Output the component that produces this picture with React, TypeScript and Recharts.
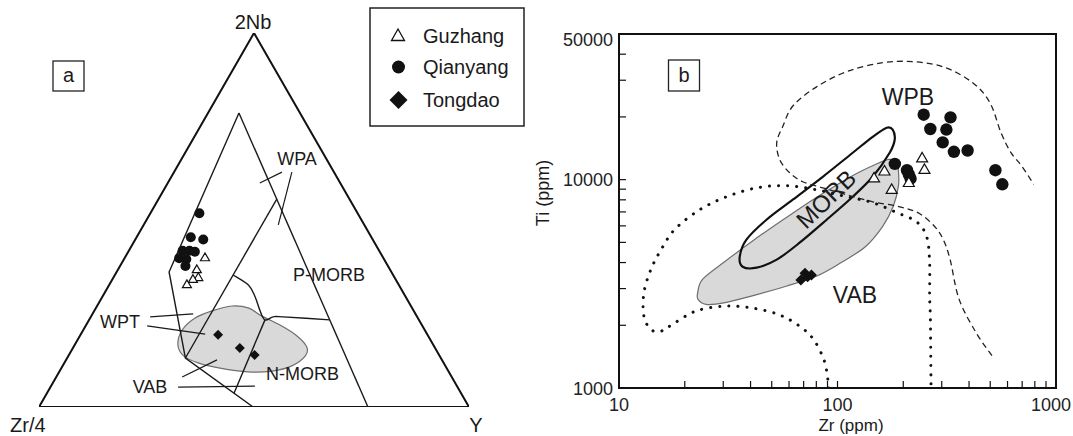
import React from 'react';
import { ScatterChart, Scatter, XAxis, YAxis, ReferenceArea } from 'recharts';

const FONT = '"Liberation Sans", Arial, Helvetica, sans-serif';

// ---------- Panel a: Zr/4 - 2Nb - Y ternary, values as [2Nb %, Y %] (Zr/4 = remainder) ----------
const guzhangTernary = [[39.8, 18.7], [36.6, 18.4], [34.5, 19.8], [34.0, 18.8], [32.6, 18.1]];
const qianyangTernary = [[51.8, 11.4], [45.4, 12.6], [44.8, 15.8], [41.8, 12.5], [41.8, 14.1], [41.5, 15.5], [39.8, 12.7], [39.5, 14.5], [37.7, 15.2]];
const tongdaoTernary = [[19.3, 32.0], [15.8, 38.8], [13.9, 43.2]];

const outerTriangle = [[100, 0], [0, 0], [0, 100]];
const innerLeftLine = [[78.6, 7.2], [36.1, 12.2], [13.1, 27.5], [0, 49.8]];
const innerRightLine = [[78.6, 7.2], [0, 76.5]];
const constantYLine = [[55.6, 27.5], [13.1, 27.5]];
const cdBoundary = [[35.3, 27.5], [32.6, 32.4], [29.5, 35.5], [25.9, 38.4], [23.3, 40.9], [24.1, 42.4], [24.1, 44.7], [23.3, 56.0]];
const nmorbBoundary = [[23.3, 40.9], [3.7, 43.5]];
const leaderLines = [
  [[59.9, 21.4], [62.8, 25.1]],
  [[62.8, 27.4], [48.7, 31.3]],
  [[24.1, 13.8], [24.9, 23.4]],
  [[21.7, 14.3], [19.5, 28.9]],
  [[8.0, 29.3], [12.6, 35.1]],
  [[5.3, 29.7], [5.6, 47.4]],
];
const tongdaoFieldTernary = [[16.6, 24.0], [20.6, 23.0], [23.8, 24.4], [25.7, 27.4], [27.0, 31.4], [26.5, 35.4], [24.3, 39.7], [21.9, 45.1], [19.0, 50.5], [16.0, 54.3], [13.6, 55.1], [11.0, 53.3], [9.6, 49.4], [9.4, 43.9], [10.4, 36.9], [11.8, 31.1], [13.6, 26.9]];

// ---------- Panel b: Zr vs Ti (ppm) ----------
const guzhangZr = [244, 250, 164, 147, 177, 212];
const guzhangTi = [12600, 11100, 10900, 10100, 8900, 9600];
const qianyangZr = [248, 329, 266, 315, 303, 341, 394, 183, 208, 216, 212, 528, 568];
const qianyangTi = [20500, 19900, 17500, 17400, 15100, 13600, 13800, 11900, 11100, 10100, 10600, 11100, 9500];
const tongdaoZr = [71, 76, 68, 73];
const tongdaoTi = [3550, 3490, 3300, 3420];

const morbField = [[35.7, 4270], [38.3, 5150], [47.3, 6420], [62.4, 8010], [85.6, 10320], [117.4, 13460], [144.9, 16060], [168, 17750], [178.9, 17360], [182.7, 15540], [173.3, 13460], [144.9, 10320], [117.4, 8280], [89.2, 6420], [67.1, 4980], [52.7, 4130], [42.7, 3780], [36.8, 3820]];
const vabField = [[22.9, 2860], [24.1, 3320], [30.1, 4000], [41.6, 5150], [62.6, 6920], [86.6, 8640], [116, 10390], [149, 11820], [172, 12500], [186, 12100], [190, 11000], [190, 9300], [180, 7450], [161, 5970], [134.5, 4780], [104, 4000], [80.5, 3450], [58.2, 3080], [40.3, 2760], [30.1, 2560], [25, 2520], [23, 2660]];
const wpbBoundary = [[509, 1430], [430, 1850], [360, 2670], [328, 4120], [305, 5150], [279, 5940], [238, 6860], [193, 7410], [145, 7830], [110, 8460], [85.6, 9140], [69.3, 9770], [60.4, 10790], [54.4, 12460], [52.7, 15040], [56.1, 17940], [62.6, 22620], [80.5, 27950], [111, 33090], [161, 36400], [225, 36800], [311, 34500], [417, 29100], [499, 23350], [560, 16800], [622, 13480], [697, 11620], [791, 9500]];
const iatBoundary = [[91, 1000], [89.9, 1140], [86.6, 1370], [77.7, 1710], [67.1, 1980], [53.9, 2250], [40.3, 2425], [30.1, 2470], [22.5, 2340], [18, 2055], [15.6, 1875], [14, 1910], [13, 2210], [13, 2860], [14, 3710], [15.6, 4620], [18, 5770], [23.4, 7170], [31.1, 8280], [42.7, 9140], [58.5, 9350], [80.3, 8940], [110, 8280], [145, 7750], [187, 6940], [230, 6280], [256, 5320], [264, 3990], [264, 2740], [266, 2210], [267, 1530], [268, 1000]];

const zrTicks = [10, 20, 30, 40, 50, 60, 70, 80, 90, 100, 200, 300, 400, 500, 600, 700, 800, 900, 1000];
const zrTickLabels = [10, 100, 1000];
const tiTicks = [1000, 2000, 3000, 4000, 5000, 6000, 7000, 8000, 9000, 10000, 20000, 30000, 40000, 50000];
const tiTickLabels = [1000, 10000, 50000];

// ---------- helpers ----------
const tern = (arr: number[][]) => arr.map(([nb, y]) => ({ x: y + nb / 2, y: nb }));
const pairs = (arr: number[][]) => arr.map(([x, y]) => ({ x, y }));
const zip = (xs: number[], ys: number[]) => xs.map((x, i) => ({ x, y: ys[i] }));

type Pt = { x: number; y: number };
function catmull(pts: Pt[], closed: boolean): string {
  const n = pts.length;
  if (n < 2) return '';
  const get = (i: number) => (closed ? pts[(i + n) % n] : pts[Math.max(0, Math.min(n - 1, i))]);
  let d = `M${pts[0].x},${pts[0].y}`;
  const segs = closed ? n : n - 1;
  for (let i = 0; i < segs; i++) {
    const p0 = get(i - 1), p1 = get(i), p2 = get(i + 1), p3 = get(i + 2);
    const c1x = p1.x + (p2.x - p0.x) / 6, c1y = p1.y + (p2.y - p0.y) / 6;
    const c2x = p2.x - (p3.x - p1.x) / 6, c2y = p2.y - (p3.y - p1.y) / 6;
    d += ` C${c1x},${c1y} ${c2x},${c2y} ${p2.x},${p2.y}`;
  }
  if (closed) d += ' Z';
  return d;
}
function linear(pts: Pt[], closed: boolean): string {
  if (pts.length < 2) return '';
  return pts.map((p, i) => `${i ? 'L' : 'M'}${p.x},${p.y}`).join(' ') + (closed ? ' Z' : '');
}
const pathLine = (style: any, closed: boolean, smooth: boolean) => (props: any) => {
  const pts: Pt[] = (props.points || []).filter((p: any) => p && Number.isFinite(p.x) && Number.isFinite(p.y));
  const d = smooth ? catmull(pts, closed) : linear(pts, closed);
  return <path d={d} {...style} />;
};
const noShape = () => <g />;

const circleShape = (r: number) => (p: any) => <circle cx={p.cx} cy={p.cy} r={r} fill="#111" />;
const triShape = (s: number) => (p: any) => {
  const { cx, cy } = p;
  const h = s * 0.866;
  return <path d={`M${cx},${cy - (2 * h) / 3} L${cx - s / 2},${cy + h / 3} L${cx + s / 2},${cy + h / 3} Z`} fill="#fff" stroke="#111" strokeWidth={1.2} />;
};
const diamondShape = (r: number) => (p: any) => {
  const { cx, cy } = p;
  return <path d={`M${cx},${cy - r} L${cx + r},${cy} L${cx},${cy + r} L${cx - r},${cy} Z`} fill="#111" />;
};

const LINE = { fill: 'none', stroke: '#1a1a1a', strokeWidth: 1.4 };

function PanelA() {
  return (
    <ScatterChart width={540} height={436} margin={{ top: 33, right: 71, bottom: 29, left: 39 }}>
      <XAxis type="number" dataKey="x" domain={[0, 100]} hide allowDataOverflow />
      <YAxis type="number" dataKey="y" domain={[0, 100]} hide allowDataOverflow />
      <Scatter data={tern(tongdaoFieldTernary)} line={pathLine({ fill: '#d9d9d9', stroke: '#6e6e6e', strokeWidth: 1.2 }, true, true)} lineType="joint" shape={noShape} isAnimationActive={false} />
      <Scatter data={tern(outerTriangle)} line={pathLine({ fill: 'none', stroke: '#111', strokeWidth: 2 }, true, false)} lineType="joint" shape={noShape} isAnimationActive={false} />
      <Scatter data={tern(innerLeftLine)} line={pathLine(LINE, false, false)} lineType="joint" shape={noShape} isAnimationActive={false} />
      <Scatter data={tern(innerRightLine)} line={pathLine(LINE, false, false)} lineType="joint" shape={noShape} isAnimationActive={false} />
      <Scatter data={tern(constantYLine)} line={pathLine(LINE, false, false)} lineType="joint" shape={noShape} isAnimationActive={false} />
      <Scatter data={tern(cdBoundary)} line={pathLine(LINE, false, true)} lineType="joint" shape={noShape} isAnimationActive={false} />
      <Scatter data={tern(nmorbBoundary)} line={pathLine(LINE, false, false)} lineType="joint" shape={noShape} isAnimationActive={false} />
      {leaderLines.map((seg, i) => (
        <Scatter key={i} data={tern(seg)} line={pathLine({ fill: 'none', stroke: '#1a1a1a', strokeWidth: 1.2 }, false, false)} lineType="joint" shape={noShape} isAnimationActive={false} />
      ))}
      <Scatter data={tern(qianyangTernary)} shape={circleShape(5)} isAnimationActive={false} />
      <Scatter data={tern(guzhangTernary)} shape={triShape(9)} isAnimationActive={false} />
      <Scatter data={tern(tongdaoTernary)} shape={diamondShape(5)} isAnimationActive={false} />
    </ScatterChart>
  );
}

const tickText = { fontSize: 18, fill: '#222', fontFamily: FONT };

const XTick = (p: any) => {
  const v = p.payload?.value;
  const label = zrTickLabels.includes(v);
  return (
    <g>
      <line x1={p.x} y1={p.y} x2={p.x} y2={p.y - 7} stroke="#111" strokeWidth={1.2} />
      {label && (
        <text x={v === 1000 ? p.x - 5 : p.x} y={p.y + 23} textAnchor="middle" {...tickText}>{String(v)}</text>
      )}
    </g>
  );
};
const YTick = (p: any) => {
  const v = p.payload?.value;
  const label = tiTickLabels.includes(v);
  return (
    <g>
      <line x1={p.x} y1={p.y} x2={p.x + 7} y2={p.y} stroke="#111" strokeWidth={1.2} />
      {label && (
        <text x={p.x - 6} y={p.y + 6.5 + (v === 50000 ? 5 : 0)} textAnchor="end" {...tickText}>{String(v)}</text>
      )}
    </g>
  );
};

function PanelB() {
  return (
    <ScatterChart width={533} height={436} margin={{ top: 34, right: 17, bottom: 8, left: 10 }}>
      <XAxis type="number" dataKey="x" scale="log" domain={[10, 1000]} ticks={zrTicks} interval={0}
        tickSize={0} tickMargin={0} height={40} allowDataOverflow tickLine={false}
        axisLine={{ stroke: '#111', strokeWidth: 2 }} tick={XTick} />
      <YAxis type="number" dataKey="y" scale="log" domain={[1000, 50000]} ticks={tiTicks} interval={0}
        tickSize={0} tickMargin={0} width={69} allowDataOverflow tickLine={false}
        axisLine={{ stroke: '#111', strokeWidth: 2 }} tick={YTick} />
      <ReferenceArea x1={10} x2={1000} y1={1000} y2={50000} fill="none" fillOpacity={0} stroke="#111" strokeWidth={2} ifOverflow="visible" />
      <Scatter data={pairs(vabField)} line={pathLine({ fill: '#d9d9d9', stroke: '#6e6e6e', strokeWidth: 1.2 }, true, true)} lineType="joint" shape={noShape} isAnimationActive={false} />
      <Scatter data={pairs(morbField)} line={pathLine({ fill: 'none', stroke: '#111', strokeWidth: 2.2 }, true, true)} lineType="joint" shape={noShape} isAnimationActive={false} />
      <Scatter data={pairs(wpbBoundary)} line={pathLine({ fill: 'none', stroke: '#222', strokeWidth: 1.3, strokeDasharray: '6 4' }, false, true)} lineType="joint" shape={noShape} isAnimationActive={false} />
      <Scatter data={pairs(iatBoundary)} line={pathLine({ fill: 'none', stroke: '#111', strokeWidth: 3, strokeDasharray: '0.1 9', strokeLinecap: 'round' }, false, true)} lineType="joint" shape={noShape} isAnimationActive={false} />
      <Scatter data={zip(qianyangZr, qianyangTi)} shape={circleShape(6.2)} isAnimationActive={false} />
      <Scatter data={zip(guzhangZr, guzhangTi)} shape={triShape(11)} isAnimationActive={false} />
      <Scatter data={zip(tongdaoZr, tongdaoTi)} shape={diamondShape(5.5)} isAnimationActive={false} />
    </ScatterChart>
  );
}

function Overlay() {
  const t = { fontFamily: FONT, fill: '#1a1a1a' } as const;
  return (
    <svg width={1073} height={436} style={{ position: 'absolute', left: 0, top: 0, pointerEvents: 'none' }}>
      {/* panel a corner labels */}
      <text x={253} y={29} fontSize={20} textAnchor="middle" {...t}>2Nb</text>
      <text x={10} y={432} fontSize={20} {...t}>Zr/4</text>
      <text x={476} y={432} fontSize={20} textAnchor="middle" {...t}>Y</text>
      <rect x={53} y={61} width={31} height={30} fill="#fff" stroke="#222" strokeWidth={1.3} />
      <text x={68.5} y={82} fontSize={20} textAnchor="middle" {...t}>a</text>
      {/* panel a field labels */}
      <text x={297} y={164.5} fontSize={18} textAnchor="middle" {...t}>WPA</text>
      <text x={329} y={280.5} fontSize={18} textAnchor="middle" {...t}>P-MORB</text>
      <text x={302.5} y={380} fontSize={18} textAnchor="middle" {...t}>N-MORB</text>
      <text x={120} y={328} fontSize={18} textAnchor="middle" {...t}>WPT</text>
      <text x={150} y={393} fontSize={18} textAnchor="middle" {...t}>VAB</text>
      {/* legend */}
      <rect x={370} y={8} width={154} height={118} fill="#fff" stroke="#222" strokeWidth={1.5} />
      <path d="M398,29 L391.5,40.5 L404.5,40.5 Z" fill="#fff" stroke="#111" strokeWidth={1.3} />
      <text x={423} y={43} fontSize={20} {...t}>Guzhang</text>
      <circle cx={398.5} cy={67} r={6.5} fill="#111" />
      <text x={423} y={74} fontSize={20} {...t}>Qianyang</text>
      <path d="M398.5,91 L407.5,100 L398.5,109 L389.5,100 Z" fill="#111" />
      <text x={423} y={107} fontSize={20} {...t}>Tongdao</text>
      {/* panel b */}
      <rect x={668.5} y={60} width={31} height={31} fill="#fff" stroke="#222" strokeWidth={1.3} />
      <text x={684} y={82} fontSize={20} textAnchor="middle" {...t}>b</text>
      <text x={908} y={105} fontSize={23} textAnchor="middle" {...t}>WPB</text>
      <text x={855} y={303} fontSize={23} textAnchor="middle" {...t}>VAB</text>
      <text x={826} y={199} fontSize={24} textAnchor="middle" dominantBaseline="central" transform="rotate(-44 826 199)" {...t}>MORB</text>
      <text x={851} y={431} fontSize={17} textAnchor="middle" {...t}>Zr (ppm)</text>
      <text x={549} y={193} fontSize={18} textAnchor="middle" transform="rotate(-90 549 193)" {...t}>Ti (ppm)</text>
    </svg>
  );
}

export default function App() {
  return (
    <div style={{ position: 'absolute', left: 0, top: 0, width: 1073, height: 436, background: '#fff', overflow: 'hidden' }}>
      <div style={{ position: 'absolute', left: 0, top: 0 }}>
        <PanelA />
      </div>
      <div style={{ position: 'absolute', left: 540, top: 0 }}>
        <PanelB />
      </div>
      <Overlay />
    </div>
  );
}
